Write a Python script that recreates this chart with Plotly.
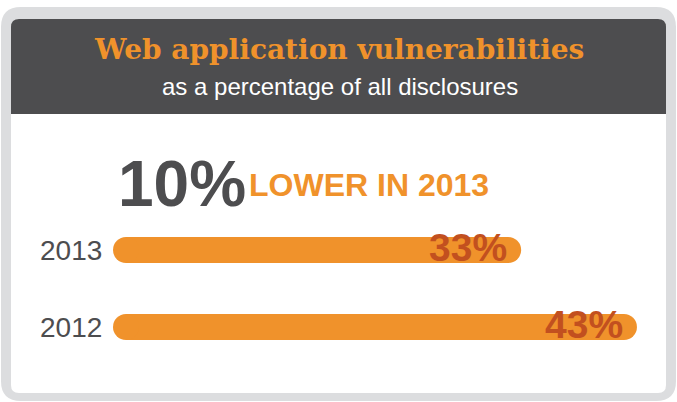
import plotly.graph_objects as go

# Data
years = ["2012", "2013"]
shares = [43, 33]
value_labels = ["43%", "33%"]
headline_value = "10%"
headline_text = "LOWER IN 2013"
title = "Web application vulnerabilities"
subtitle = "as a percentage of all disclosures"

W, H = 677, 402
ORANGE = "#f0922b"
DARK_ORANGE = "#c2501f"
DARK = "#4d4d4f"
FRAME = "#dcdddf"


def px(x, y):
    return x / W, 1 - y / H


def rounded_rect(x0, y0, x1, y1, r, rb=None):
    """SVG path (paper coords) for a rounded rectangle given in pixels."""
    rb = r if rb is None else rb

    def P(x, y):
        a, b = px(x, y)
        return f"{a:.5f},{b:.5f}"

    return (
        f"M {P(x0 + r, y0)} L {P(x1 - r, y0)} Q {P(x1, y0)} {P(x1, y0 + r)} "
        f"L {P(x1, y1 - rb)} Q {P(x1, y1)} {P(x1 - rb, y1)} "
        f"L {P(x0 + rb, y1)} Q {P(x0, y1)} {P(x0, y1 - rb)} "
        f"L {P(x0, y0 + r)} Q {P(x0, y0)} {P(x0 + r, y0)} Z"
    )


shapes = [
    dict(type="path", xref="paper", yref="paper", layer="below",
         path=rounded_rect(1, 7, 676, 401, 20), fillcolor=FRAME, line_width=0),
    dict(type="path", xref="paper", yref="paper", layer="below",
         path=rounded_rect(11, 19, 666, 393, 8), fillcolor="white", line_width=0),
    dict(type="path", xref="paper", yref="paper", layer="below",
         path=rounded_rect(11, 19, 666, 114, 8, 0.01), fillcolor=DARK, line_width=0),
]

fig = go.Figure()

# Rounded bars: thick line with round markers capping both ends
BAR_W = 26
for yr, v in zip(years, shares):
    fig.add_trace(go.Scatter(
        x=[0, v], y=[yr, yr], mode="lines+markers",
        line=dict(color=ORANGE, width=BAR_W),
        marker=dict(color=ORANGE, size=BAR_W, line_width=0),
        hoverinfo="skip", showlegend=False,
    ))

annotations = []
# category axis annotations use the category's index
for idx, (yr, v, lab) in enumerate(zip(years, shares, value_labels)):
    annotations.append(dict(
        x=v, y=idx, xref="x", yref="y", text=lab, showarrow=False,
        xanchor="right", yanchor="middle", xshift=1, yshift=3,
        font=dict(family="Liberation Sans", size=39, color=DARK_ORANGE, weight="bold"),
    ))
    annotations.append(dict(
        x=0, y=idx, xref="x", yref="y", text=yr, showarrow=False,
        xanchor="right", yanchor="middle", xshift=-22, yshift=0,
        font=dict(family="Liberation Sans", size=28, color=DARK),
    ))

tx, ty = px(339, 50)
annotations.append(dict(x=tx, y=ty, xref="paper", yref="paper", text=title,
                        showarrow=False, xanchor="center", yanchor="middle",
                        font=dict(family="DejaVu Serif", size=28, color=ORANGE, weight="bold")))
sx, sy = px(340, 87)
annotations.append(dict(x=sx, y=sy, xref="paper", yref="paper", text=subtitle,
                        showarrow=False, xanchor="center", yanchor="middle",
                        font=dict(family="Liberation Sans", size=24, color="white")))
hx, hy = px(116, 184)
annotations.append(dict(x=hx, y=hy, xref="paper", yref="paper", text=headline_value,
                        showarrow=False, xanchor="left", yanchor="middle",
                        font=dict(family="Liberation Sans", size=64, color=DARK, weight="bold")))
lx, ly = px(247, 185)
annotations.append(dict(x=lx, y=ly, xref="paper", yref="paper", text=headline_text,
                        showarrow=False, xanchor="left", yanchor="middle",
                        font=dict(family="Liberation Sans", size=32, color=ORANGE, weight="bold")))

fig.update_layout(
    width=W, height=H, margin=dict(l=0, r=0, t=0, b=0),
    paper_bgcolor="white", plot_bgcolor="rgba(0,0,0,0)",
    shapes=shapes, annotations=annotations,
    xaxis=dict(range=[-10.88, 47.58], visible=False, fixedrange=True),
    yaxis=dict(type="category", categoryarray=years, range=[-0.974, 4.247],
               visible=False, fixedrange=True),
)

fig.write_html("out.html")
